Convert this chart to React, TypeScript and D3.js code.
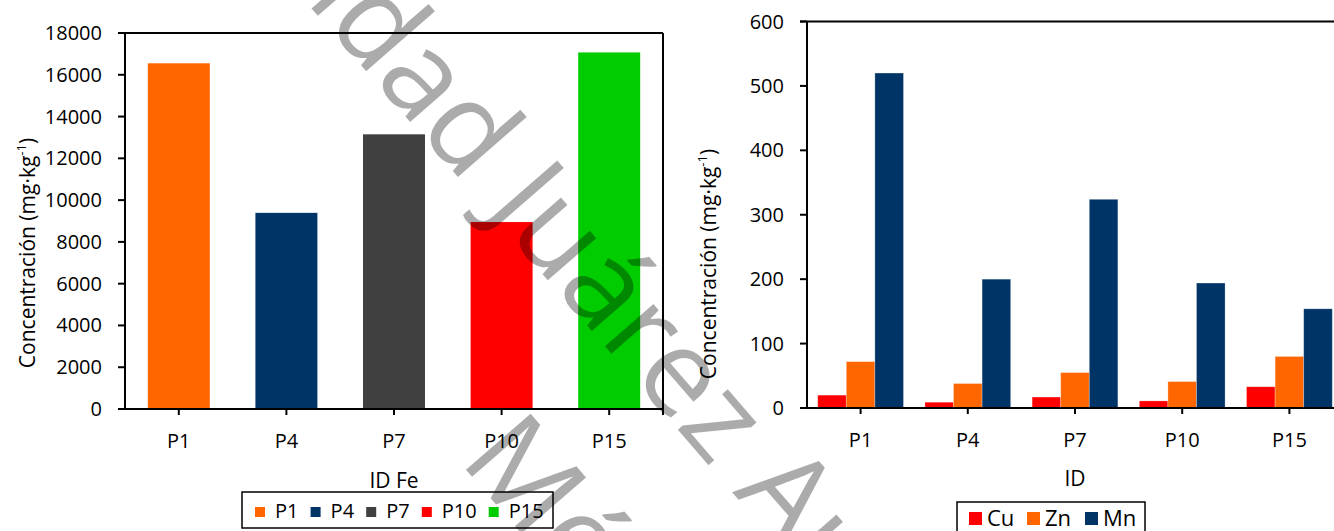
import React from 'react';
import * as d3 from 'd3';

// ---------- data ----------
const feCategories = ['P1', 'P4', 'P7', 'P10', 'P15'];
const feValues = [16550, 9390, 13150, 8950, 17070];
const feColors = ['#ff6600', '#003366', '#404040', '#ff0000', '#00cc00'];
const feTicks = [0, 2000, 4000, 6000, 8000, 10000, 12000, 14000, 16000, 18000];

const idCategories = ['P1', 'P4', 'P7', 'P10', 'P15'];
const metals = ['Cu', 'Zn', 'Mn'];
const cuValues = [20, 9, 17, 11, 33];
const znValues = [72, 38, 55, 41, 80];
const mnValues = [520, 200, 324, 194, 154];
const metalColors = ['#ff0000', '#ff6600', '#003366'];
const metalTicks = [0, 100, 200, 300, 400, 500, 600];

const yTitle = 'Concentración (mg·kg';
const leftXTitle = 'ID Fe';
const rightXTitle = 'ID';
const watermarkLine1 = 'Universidad Juárez Autónoma de Tabasco';
const watermarkLine2 = 'México';

const FONT = '"Open Sans", "Noto Sans", sans-serif';

function YTitle({ x, y }: { x: number; y: number }) {
  return (
    <text transform={`translate(${x},${y}) rotate(-90)`} textAnchor="middle" fontSize={21} fontFamily={FONT} fill="#000">
      {yTitle}
      <tspan fontSize={13} dy={-9}>-1</tspan>
      <tspan dy={9}>)</tspan>
    </text>
  );
}

export default function App() {
  // ----- left chart -----
  const L = { left: 125, right: 663, top: 33, bottom: 409 };
  const xL = d3.scaleBand<string>().domain(feCategories).range([L.left, L.right]).paddingInner(0.424).paddingOuter(0.212);
  const yL = d3.scaleLinear().domain([0, 18000]).range([L.bottom, L.top]);

  // ----- right chart -----
  const R = { left: 807, right: 1343, top: 21.5, bottom: 408 };
  const xR = d3.scaleBand<string>().domain(idCategories).range([R.left, R.right]).paddingInner(0.2).paddingOuter(0.1);
  const xSub = d3.scaleBand<string>().domain(metals).range([0, xR.bandwidth()]).padding(0);
  const yR = d3.scaleLinear().domain([0, 600]).range([R.bottom, R.top]);
  const metalSeries = [cuValues, znValues, mnValues];

  // left legend layout
  const legLItems: { label: string; color: string; x: number }[] = [];
  let lx = 255;
  feCategories.forEach((c, i) => {
    legLItems.push({ label: c, color: feColors[i], x: lx });
    lx += 20 + c.length * 11.3 + 13;
  });
  const legRItems: { label: string; color: string; x: number }[] = [];
  let rx = 969;
  metals.forEach((m, i) => {
    legRItems.push({ label: m, color: metalColors[i], x: rx });
    rx += 18 + m.length * 12.5 + 15;
  });

  return (
    <svg width={1334} height={531} style={{ position: 'absolute', left: 0, top: 0, background: '#fff' }} fontFamily={FONT}>
      <rect x={0} y={0} width={1334} height={531} fill="#fff" />

      {/* ===== LEFT CHART ===== */}
      {feCategories.map((c, i) => (
        <rect key={c} x={xL(c)} y={yL(feValues[i])} width={xL.bandwidth()} height={yL(0) - yL(feValues[i])} fill={feColors[i]} />
      ))}
      {/* frame */}
      <line x1={L.left - 7} x2={L.right} y1={L.top} y2={L.top} stroke="#000" strokeWidth={2} />
      <line x1={L.right} x2={L.right} y1={L.top} y2={L.bottom + 6} stroke="#000" strokeWidth={2} />
      <line x1={L.left} x2={L.left} y1={L.top} y2={L.bottom} stroke="#000" strokeWidth={2} />
      <line x1={L.left - 7} x2={L.right} y1={L.bottom} y2={L.bottom} stroke="#000" strokeWidth={2} />
      {feTicks.map((t) => (
        <g key={t}>
          <line x1={L.left - 7} x2={L.left} y1={yL(t)} y2={yL(t)} stroke="#000" strokeWidth={2} />
          <text x={L.left - 23} y={yL(t) + 7} textAnchor="end" fontSize={20} fill="#000">{t}</text>
        </g>
      ))}
      {feCategories.map((c) => {
        const cx = (xL(c) as number) + xL.bandwidth() / 2;
        return (
          <g key={c}>
            <line x1={cx} x2={cx} y1={L.bottom} y2={L.bottom + 6} stroke="#000" strokeWidth={2} />
            <text x={cx} y={L.bottom + 39} textAnchor="middle" fontSize={20} fill="#000">{c}</text>
          </g>
        );
      })}
      <YTitle x={35} y={253} />
      <text x={(L.left + L.right) / 2} y={488} textAnchor="middle" fontSize={21} fill="#000">{leftXTitle}</text>
      <rect x={242} y={492} width={311} height={36} fill="#fff" stroke="#000" strokeWidth={1.5} />
      {legLItems.map((it) => (
        <g key={it.label}>
          <rect x={it.x} y={507} width={10} height={10} fill={it.color} />
          <text x={it.x + 20} y={518} fontSize={20} fill="#000">{it.label}</text>
        </g>
      ))}

      {/* ===== RIGHT CHART ===== */}
      {idCategories.map((c, i) => (
        <g key={c} transform={`translate(${xR(c)},0)`}>
          {metals.map((m, j) => (
            <rect key={m} x={xSub(m)} y={yR(metalSeries[j][i])} width={xSub.bandwidth()} height={yR(0) - yR(metalSeries[j][i])}
              fill={metalColors[j]} stroke="#ffffff" strokeOpacity={0.35} strokeWidth={0.8} />
          ))}
        </g>
      ))}
      <line x1={R.left - 7} x2={R.right} y1={R.top} y2={R.top} stroke="#000" strokeWidth={2} />
      <line x1={R.left} x2={R.left} y1={R.top} y2={R.bottom} stroke="#000" strokeWidth={2} />
      <line x1={R.left - 7} x2={R.right} y1={R.bottom} y2={R.bottom} stroke="#000" strokeWidth={2} />
      {metalTicks.map((t) => (
        <g key={t}>
          <line x1={R.left - 7} x2={R.left} y1={yR(t)} y2={yR(t)} stroke="#000" strokeWidth={2} />
          <text x={R.left - 23} y={yR(t) + 7} textAnchor="end" fontSize={20} fill="#000">{t}</text>
        </g>
      ))}
      {idCategories.map((c) => {
        const cx = (xR(c) as number) + xR.bandwidth() / 2;
        return (
          <g key={c}>
            <line x1={cx} x2={cx} y1={R.bottom} y2={R.bottom + 6} stroke="#000" strokeWidth={2} />
            <text x={cx} y={R.bottom + 39} textAnchor="middle" fontSize={20} fill="#000">{c}</text>
          </g>
        );
      })}
      <YTitle x={716} y={264} />
      <text x={(R.left + R.right) / 2} y={486} textAnchor="middle" fontSize={21} fill="#000">{rightXTitle}</text>
      <rect x={957} y={502} width={188} height={40} fill="#fff" stroke="#000" strokeWidth={1.5} />
      {legRItems.map((it) => (
        <g key={it.label}>
          <rect x={it.x} y={512} width={13} height={13} fill={it.color} />
          <text x={it.x + 18} y={526} fontSize={22} fill="#000">{it.label}</text>
        </g>
      ))}

      {/* ===== WATERMARK ===== */}
      <g transform="translate(26,-320) rotate(49)" fill="#000" fillOpacity={0.33} fontSize={120} fontWeight={400} fontFamily={FONT}>
        <text x={0} y={0}>{watermarkLine1}</text>
        <text x={873} y={186}>{watermarkLine2}</text>
      </g>
    </svg>
  );
}
